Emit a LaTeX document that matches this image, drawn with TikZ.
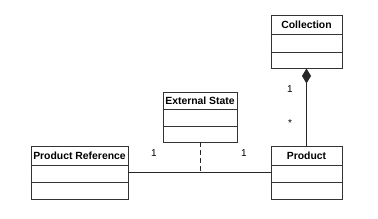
\documentclass[tikz,border=0pt]{standalone}
\usepackage{fontspec}
\setmainfont{Liberation Sans}
\usetikzlibrary{arrows.meta,calc}

\begin{document}
\begin{tikzpicture}[
      x=1pt, y=-1pt,
      font=\fontsize{10}{11}\selectfont,
      cls/.style={draw=black!80, line width=0.9pt, inner sep=0pt},
      ttl/.style={font=\fontsize{10.4}{11}\selectfont\bfseries, inner sep=0pt},
      sep/.style={draw=black!80, line width=0.9pt},
      ar/.style={draw=black!85, line width=0.9pt},
      mult/.style={font=\fontsize{10}{11}\selectfont, inner sep=0pt}
    ]
    \useasboundingbox (0,0) rectangle (378,218);

    % ===== Collection (top right) =====
    \node[cls, minimum width=71pt, minimum height=53pt] (coll) at (306.5,41.5) {};
    \node[ttl] (collT) at (306.5,24.5) {Collection};
    \draw[sep] (coll.west |- 0,34) -- (coll.east |- 0,34);
    \draw[sep] (coll.west |- 0,52) -- (coll.east |- 0,52);

    % ===== External State (middle) =====
    \node[cls, minimum width=74pt, minimum height=50pt] (ext) at (200,117) {};
    \node[ttl] (extT) at (200,100.5) {External State};
    \draw[sep] (ext.west |- 0,109) -- (ext.east |- 0,109);
    \draw[sep] (ext.west |- 0,126) -- (ext.east |- 0,126);

    % ===== Product Reference (bottom left) =====
    \node[cls, minimum width=97pt, minimum height=53pt] (pref) at (79.5,172.5) {};
    \node[ttl] (prefT) at (79.5,155.5) {Product Reference};
    \draw[sep] (pref.west |- 0,165) -- (pref.east |- 0,165);
    \draw[sep] (pref.west |- 0,182) -- (pref.east |- 0,182);

    % ===== Product (bottom right) =====
    \node[cls, minimum width=71pt, minimum height=53pt] (prod) at (306.5,172.5) {};
    \node[ttl] (prodT) at (306.5,155.5) {Product};
    \draw[sep] (prod.west |- 0,165) -- (prod.east |- 0,165);
    \draw[sep] (prod.west |- 0,182) -- (prod.east |- 0,182);

    % ===== associations =====
    \draw[ar, -{Diamond[length=15pt, width=9pt]}] (prod.north) -- (coll.south);   % composition
    \draw[ar] (pref.east) -- coordinate (mid) (prod.west);                      % association
    \draw[ar, dash pattern=on 5pt off 3pt] (ext.south) -- (ext.south |- mid);    % association class

    % multiplicities
    \node[mult] (m1) at (290,89) {1};
    \node[mult] (m2) at (290,123) {*};
    \node[mult] (m3) at (154,153) {1};
    \node[mult] (m4) at (244,153) {1};
    \end{tikzpicture}
\end{document}
